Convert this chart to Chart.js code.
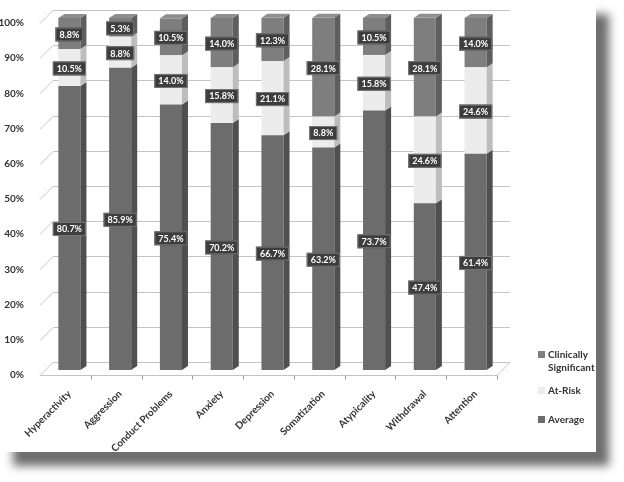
<!DOCTYPE html>
<html>
<head>
<meta charset="utf-8">
<script src="https://cdn.jsdelivr.net/npm/chart.js@4/dist/chart.umd.min.js"></script>
<style>
  body { margin: 0; background: #fff; }
  #card { position: absolute; left: 0; top: 0; width: 596px; height: 452px; background: #fff;
          box-shadow: 13px 14px 9px #6e6e6e; }
  #myChart { position: absolute; left: 0; top: 0; }
  #legend { position: absolute; left: 538px; top: 348px; font: bold 10px Lato, 'Open Sans', sans-serif; color: #333; }
  .item { position: relative; padding-left: 10px; line-height: 13px; }
  .item span { position: absolute; left: 0; top: 3px; width: 7px; height: 7px; }
</style>
</head>
<body>
<div id="card">
  <canvas id="myChart" width="596" height="452"></canvas>
  <div id="legend"></div>
</div>
<script>
// categories and series (percent of students)
const categories = ['Hyperactivity', 'Aggression', 'Conduct Problems', 'Anxiety', 'Depression',
  'Somatization', 'Atypicality', 'Withdrawal', 'Attention'];
const average = [80.7, 85.9, 75.4, 70.2, 66.7, 63.2, 73.7, 47.4, 61.4];
const atRisk = [10.5, 8.8, 14.0, 15.8, 21.1, 8.8, 15.8, 24.6, 24.6];
const clinical = [8.8, 5.3, 10.5, 14.0, 12.3, 28.1, 10.5, 28.1, 14.0];
const yTicks = [0, 10, 20, 30, 40, 50, 60, 70, 80, 90, 100];

const fontFam = "Lato, 'Open Sans', sans-serif";
const front = ['#6c6c6c', '#ececec', '#7e7e7e'];
const side = ['#4f4f4f', '#bdbdbd', '#5e5e5e'];
const topFace = '#8e8e8e';

// back wall grid, floor, ticks
const gridPlugin = {
  id: 'grid3d',
  beforeDatasetsDraw(chart) {
    const ctx = chart.ctx, a = chart.chartArea, ys = chart.scales.y;
    const L = a.left, R = a.right;
    ctx.save();
    ctx.strokeStyle = '#c4c4c4';
    ctx.lineWidth = 1;
    yTicks.forEach(v => {
      const y = Math.round(ys.getPixelForValue(v)) + 0.5;
      ctx.beginPath();
      ctx.moveTo(L - 4, y + 5);
      ctx.lineTo(L + 9, y - 8);
      ctx.lineTo(R + 9, y - 8);
      ctx.stroke();
    });
    const b = Math.round(ys.getPixelForValue(0)) + 0.5;
    ctx.beginPath();
    ctx.moveTo(L - 4, b + 5);
    ctx.lineTo(R - 4, b + 5);
    ctx.lineTo(R + 9, b - 8);
    ctx.stroke();
    ctx.strokeStyle = '#999';
    const step = (R - L) / categories.length;
    for (let i = 1; i <= categories.length; i++) {
      const x = Math.round(L - 4 + i * step) + 0.5;
      ctx.beginPath();
      ctx.moveTo(x, b + 5);
      ctx.lineTo(x, b + 9);
      ctx.stroke();
    }
    ctx.restore();
  }
};

// side and top faces, then value boxes
const facePlugin = {
  id: 'faces3d',
  afterDatasetsDraw(chart) {
    const ctx = chart.ctx;
    const dx = 6, dy = -4;
    ctx.save();
    chart.data.datasets.forEach((ds, di) => {
      chart.getDatasetMeta(di).data.forEach(el => {
        const r = el.x + el.width / 2, l = el.x - el.width / 2;
        ctx.fillStyle = side[di];
        ctx.beginPath();
        ctx.moveTo(r, el.y);
        ctx.lineTo(r + dx, el.y + dy);
        ctx.lineTo(r + dx, el.base + dy);
        ctx.lineTo(r, el.base);
        ctx.closePath();
        ctx.fill();
        if (di === chart.data.datasets.length - 1) {
          ctx.fillStyle = topFace;
          ctx.beginPath();
          ctx.moveTo(l, el.y);
          ctx.lineTo(l + dx, el.y + dy);
          ctx.lineTo(r + dx, el.y + dy);
          ctx.lineTo(r, el.y);
          ctx.closePath();
          ctx.fill();
        }
      });
    });
    ctx.font = 'bold 9px ' + fontFam;
    ctx.textAlign = 'center';
    ctx.textBaseline = 'middle';
    chart.data.datasets.forEach((ds, di) => {
      chart.getDatasetMeta(di).data.forEach((el, i) => {
        const txt = ds.data[i].toFixed(1) + '%';
        const cy = (el.y + el.base) / 2 + 1;
        const w = ctx.measureText(txt).width + 8;
        ctx.fillStyle = '#3d3d3d';
        ctx.fillRect(el.x - w / 2, cy - 7, w, 14);
        ctx.strokeStyle = '#777';
        ctx.strokeRect(el.x - w / 2 + 0.5, cy - 6.5, w - 1, 13);
        ctx.fillStyle = '#fff';
        ctx.fillText(txt, el.x, cy + 0.5);
      });
    });
    ctx.restore();
  }
};

const ctx1 = document.getElementById('myChart').getContext('2d');
const chart1 = new Chart(ctx1, {
  type: 'bar',
  data: {
    labels: categories,
    datasets: [
      { label: 'Average', data: average, backgroundColor: front[0] },
      { label: 'At-Risk', data: atRisk, backgroundColor: front[1] },
      { label: 'Clinically Significant', data: clinical, backgroundColor: front[2] }
    ]
  },
  options: {
    responsive: false,
    animation: false,
    layout: { padding: { top: 17, right: 95, left: 0, bottom: 0 } },
    datasets: { bar: { barPercentage: 0.87, categoryPercentage: 0.5 } },
    plugins: { legend: { display: false }, tooltip: { enabled: false } },
    scales: {
      x: {
        stacked: true,
        grid: { display: false },
        border: { display: false },
        ticks: { minRotation: 45, maxRotation: 45, color: '#333', padding: 10,
                 font: { family: fontFam, size: 10, weight: 'bold' } },
        afterFit(s) { s.height = 82; }
      },
      y: {
        stacked: true,
        min: 0, max: 100,
        grid: { display: false },
        border: { display: false },
        ticks: { stepSize: 10, labelOffset: 5, padding: 12, color: '#333',
                 font: { family: fontFam, size: 10, weight: 'bold' },
                 callback: v => v + '%' },
        afterFit(s) { s.width = 44; }
      }
    }
  },
  plugins: [gridPlugin, facePlugin]
});

// legend, top to bottom as in the original
const leg = document.getElementById('legend');
const order = [[2, 'Clinically<br>Significant', 0], [1, 'At-Risk', 10], [0, 'Average', 16]];
order.forEach(o => {
  const d = document.createElement('div');
  d.className = 'item';
  d.style.marginTop = o[2] + 'px';
  d.innerHTML = '<span style="background:' + front[o[0]] + '"></span>' + o[1];
  leg.appendChild(d);
});
</script>
</body>
</html>
